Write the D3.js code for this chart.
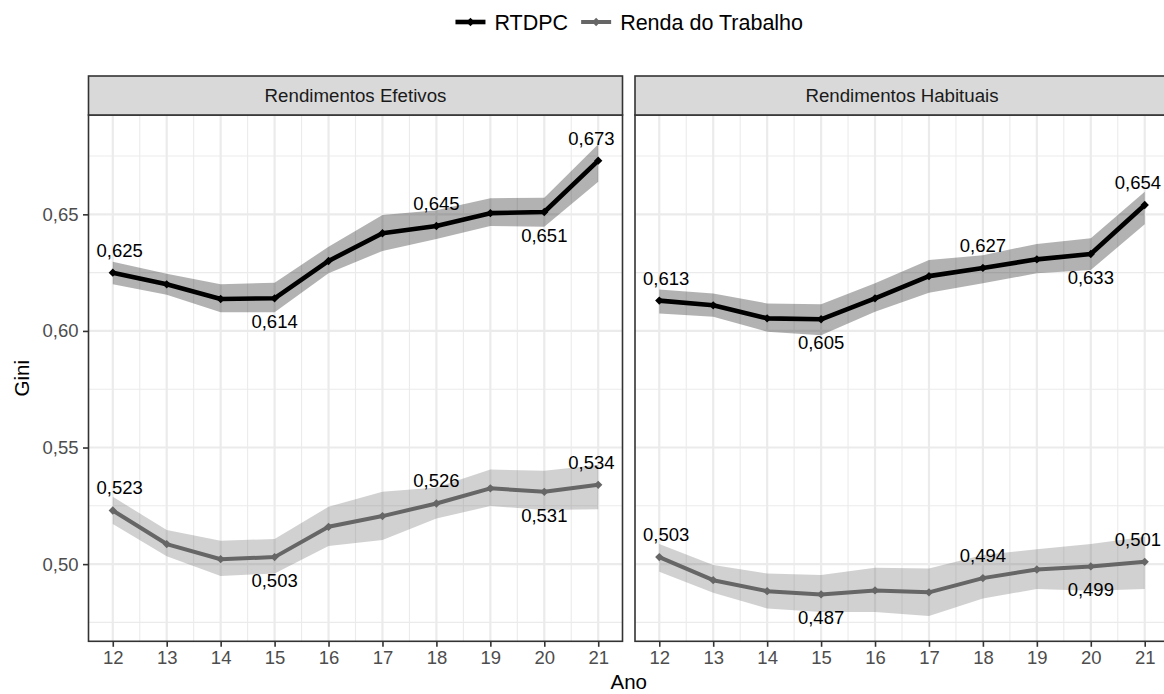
<!DOCTYPE html>
<html>
<head>
<meta charset="utf-8">
<script src="https://cdn.jsdelivr.net/npm/d3@7"></script>
<style>
  body { margin: 0; background: #fff; }
  svg { display: block; font-family: "Liberation Sans", Arial, sans-serif; }
</style>
</head>
<body>
<svg id="chart" width="1164" height="694"></svg>
<script>
// Gini index by year (20xx), two income concepts, with confidence bands
const years = [12, 13, 14, 15, 16, 17, 18, 19, 20, 21];
const panels = ["Rendimentos Efetivos", "Rendimentos Habituais"];
const seriesNames = ["RTDPC", "Renda do Trabalho"];

const efetivosRTDPC      = [0.625, 0.620, 0.6137, 0.614, 0.630, 0.6419, 0.645, 0.6505, 0.651, 0.673];
const efetivosRTDPCLow   = [0.620, 0.6155, 0.608, 0.608, 0.6247, 0.6343, 0.6394, 0.645, 0.6447, 0.664];
const efetivosRTDPCHigh  = [0.6297, 0.6245, 0.620, 0.6207, 0.6361, 0.6497, 0.6518, 0.6569, 0.6571, 0.6801];

const efetivosTrab       = [0.523, 0.5086, 0.5021, 0.503, 0.516, 0.5206, 0.526, 0.5325, 0.531, 0.534];
const efetivosTrabLow    = [0.5172, 0.5034, 0.4949, 0.496, 0.5078, 0.5103, 0.5196, 0.5249, 0.5232, 0.5235];
const efetivosTrabHigh   = [0.5289, 0.5146, 0.510, 0.5108, 0.5246, 0.531, 0.5329, 0.5406, 0.540, 0.5425];

const habituaisRTDPC     = [0.613, 0.611, 0.6054, 0.605, 0.614, 0.6235, 0.627, 0.6307, 0.633, 0.654];
const habituaisRTDPCLow  = [0.6075, 0.6061, 0.5997, 0.5982, 0.6082, 0.6164, 0.6204, 0.6247, 0.6261, 0.6458];
const habituaisRTDPCHigh = [0.6178, 0.6161, 0.6118, 0.6114, 0.6204, 0.6304, 0.6325, 0.6373, 0.6397, 0.6597];

const habituaisTrab      = [0.503, 0.4931, 0.4884, 0.487, 0.4887, 0.4879, 0.494, 0.4977, 0.499, 0.501];
const habituaisTrabLow   = [0.4967, 0.4877, 0.481, 0.4795, 0.4795, 0.4778, 0.4853, 0.4893, 0.4886, 0.4893];
const habituaisTrabHigh  = [0.5086, 0.4996, 0.496, 0.4953, 0.4984, 0.4981, 0.5039, 0.5064, 0.5086, 0.5117];

// years that carry a value label, and whether it sits above (1) or below (-1)
const labelYears = [12, 15, 18, 20, 21];
const labelSide  = [1, -1, 1, -1, 1];

const yTicks = [0.50, 0.55, 0.60, 0.65];
const yMinor = [0.475, 0.525, 0.575, 0.625, 0.675];
const xMinor = [12.5, 13.5, 14.5, 15.5, 16.5, 17.5, 18.5, 19.5, 20.5];

const panelData = [
  [
    { name: seriesNames[0], v: efetivosRTDPC, lo: efetivosRTDPCLow, hi: efetivosRTDPCHigh },
    { name: seriesNames[1], v: efetivosTrab, lo: efetivosTrabLow, hi: efetivosTrabHigh }
  ],
  [
    { name: seriesNames[0], v: habituaisRTDPC, lo: habituaisRTDPCLow, hi: habituaisRTDPCHigh },
    { name: seriesNames[1], v: habituaisTrab, lo: habituaisTrabLow, hi: habituaisTrabHigh }
  ]
];

const colour = d3.scaleOrdinal().domain(seriesNames).range(["#000000", "#666666"]);
const lineWidth = { "RTDPC": 4.6, "Renda do Trabalho": 4.0 };

const svg = d3.select("#chart");
const fmt = v => d3.format(".3f")(v).replace(".", ",");

const panelTop = 115, panelBottom = 641.3, stripTop = 76;
const panelWidth = 534;
const panelLefts = [88.5, 635];

const y = d3.scaleLinear().domain([0.4669, 0.6926]).range([panelBottom, panelTop]);
const diamond = d3.symbol().type(d3.symbolDiamond2 || d3.symbolDiamond).size(44);

panelData.forEach((series, pi) => {
  const left = panelLefts[pi];
  const x = d3.scaleLinear().domain([11.55, 21.45]).range([left, left + panelWidth]);
  const g = svg.append("g");

  // panel background and grid
  g.append("rect").attr("x", left).attr("y", panelTop)
    .attr("width", panelWidth).attr("height", panelBottom - panelTop).attr("fill", "#fff");
  g.selectAll(".ymin").data(yMinor).join("line")
    .attr("x1", left).attr("x2", left + panelWidth)
    .attr("y1", d => y(d)).attr("y2", d => y(d))
    .attr("stroke", "#EBEBEB").attr("stroke-width", 1.1);
  g.selectAll(".xmin").data(xMinor).join("line")
    .attr("y1", panelTop).attr("y2", panelBottom)
    .attr("x1", d => x(d)).attr("x2", d => x(d))
    .attr("stroke", "#EBEBEB").attr("stroke-width", 1.1);
  g.selectAll(".ymaj").data(yTicks).join("line")
    .attr("x1", left).attr("x2", left + panelWidth)
    .attr("y1", d => y(d)).attr("y2", d => y(d))
    .attr("stroke", "#EBEBEB").attr("stroke-width", 2.2);
  g.selectAll(".xmaj").data(years).join("line")
    .attr("y1", panelTop).attr("y2", panelBottom)
    .attr("x1", d => x(d)).attr("x2", d => x(d))
    .attr("stroke", "#EBEBEB").attr("stroke-width", 2.2);

  // confidence ribbons
  series.forEach(s => {
    const area = d3.area()
      .x((d, i) => x(years[i]))
      .y0((d, i) => y(s.lo[i]))
      .y1((d, i) => y(s.hi[i]));
    g.append("path").datum(s.v).attr("d", area)
      .attr("fill", colour(s.name)).attr("fill-opacity", 0.3);
  });

  // lines and points
  series.forEach(s => {
    const line = d3.line().x((d, i) => x(years[i])).y(d => y(d));
    g.append("path").datum(s.v).attr("d", line)
      .attr("fill", "none").attr("stroke", colour(s.name))
      .attr("stroke-width", lineWidth[s.name]).attr("stroke-linejoin", "round");
    g.selectAll(null).data(s.v).join("path")
      .attr("d", diamond)
      .attr("transform", (d, i) => `translate(${x(years[i])},${y(d)})`)
      .attr("fill", colour(s.name));
  });

  // value labels, kept inside the panel
  series.forEach(s => {
    labelYears.forEach((yr, k) => {
      const i = years.indexOf(yr);
      const v = s.v[i];
      const t = g.append("text")
        .attr("y", labelSide[k] > 0 ? y(v) - 16 : y(v) + 30)
        .attr("font-size", 18.5).attr("fill", "#000")
        .attr("text-anchor", "middle")
        .text(fmt(v));
      const w = t.node().getComputedTextLength();
      let cx = x(yr);
      const pad = 8;
      cx = Math.max(cx, left + pad + w / 2);
      cx = Math.min(cx, left + panelWidth - pad - w / 2);
      t.attr("x", cx);
    });
  });

  // panel border
  g.append("rect").attr("x", left).attr("y", panelTop)
    .attr("width", panelWidth).attr("height", panelBottom - panelTop)
    .attr("fill", "none").attr("stroke", "#333333").attr("stroke-width", 1.6);

  // strip
  g.append("rect").attr("x", left).attr("y", stripTop)
    .attr("width", panelWidth).attr("height", panelTop - stripTop)
    .attr("fill", "#D9D9D9").attr("stroke", "#333333").attr("stroke-width", 1.6);
  g.append("text").attr("x", left + panelWidth / 2).attr("y", (stripTop + panelTop) / 2)
    .attr("dy", "0.35em").attr("text-anchor", "middle")
    .attr("font-size", 18.7).attr("fill", "#1A1A1A").text(panels[pi]);

  // x axis
  const xAxis = d3.axisBottom(x).tickValues(years).tickSize(5.5).tickPadding(4.5)
    .tickFormat(d3.format("d"));
  const ax = g.append("g").attr("transform", `translate(0,${panelBottom})`).call(xAxis);
  ax.select(".domain").remove();
  ax.selectAll(".tick line").attr("stroke", "#333333").attr("stroke-width", 1.6);
  ax.selectAll(".tick text").attr("font-size", 18.5).attr("fill", "#4D4D4D")
    .attr("font-family", "Liberation Sans, Arial, sans-serif");

  // y axis (first panel only)
  if (pi === 0) {
    const yAxis = d3.axisLeft(y).tickValues(yTicks).tickSize(5.5).tickPadding(4.5)
      .tickFormat(d => d3.format(".2f")(d).replace(".", ","));
    const ay = g.append("g").attr("transform", `translate(${left},0)`).call(yAxis);
    ay.select(".domain").remove();
    ay.selectAll(".tick line").attr("stroke", "#333333").attr("stroke-width", 1.6);
    ay.selectAll(".tick text").attr("font-size", 18.5).attr("fill", "#4D4D4D")
      .attr("font-family", "Liberation Sans, Arial, sans-serif");
  }
});

// axis titles
svg.append("text").attr("x", (panelLefts[0] + panelLefts[1] + panelWidth) / 2).attr("y", 689)
  .attr("text-anchor", "middle").attr("font-size", 20.5).attr("fill", "#000").text("Ano");
svg.append("text")
  .attr("transform", `translate(29,${(panelTop + panelBottom) / 2}) rotate(-90)`)
  .attr("text-anchor", "middle").attr("font-size", 20.5).attr("fill", "#000").text("Gini");

// legend, centred over the panel area
const legend = svg.append("g");
const keyW = 32, keyGap = 8, itemGap = 12;
let lx = 0;
seriesNames.forEach((name, i) => {
  const item = legend.append("g").attr("transform", `translate(${lx},0)`);
  item.append("line").attr("x1", 1).attr("x2", keyW - 1).attr("y1", 0).attr("y2", 0)
    .attr("stroke", colour(name)).attr("stroke-width", lineWidth[name]);
  item.append("path").attr("d", diamond).attr("transform", `translate(${keyW / 2},0)`)
    .attr("fill", colour(name));
  const t = item.append("text").attr("x", keyW + keyGap).attr("dy", "0.35em")
    .attr("font-size", 21.5).attr("fill", "#000").text(name);
  lx += keyW + keyGap + t.node().getComputedTextLength() + itemGap;
});
const lw = lx - itemGap;
const legendCentre = (panelLefts[0] + panelLefts[1] + panelWidth) / 2;
legend.attr("transform", `translate(${legendCentre - lw / 2},22)`);
</script>
</body>
</html>
